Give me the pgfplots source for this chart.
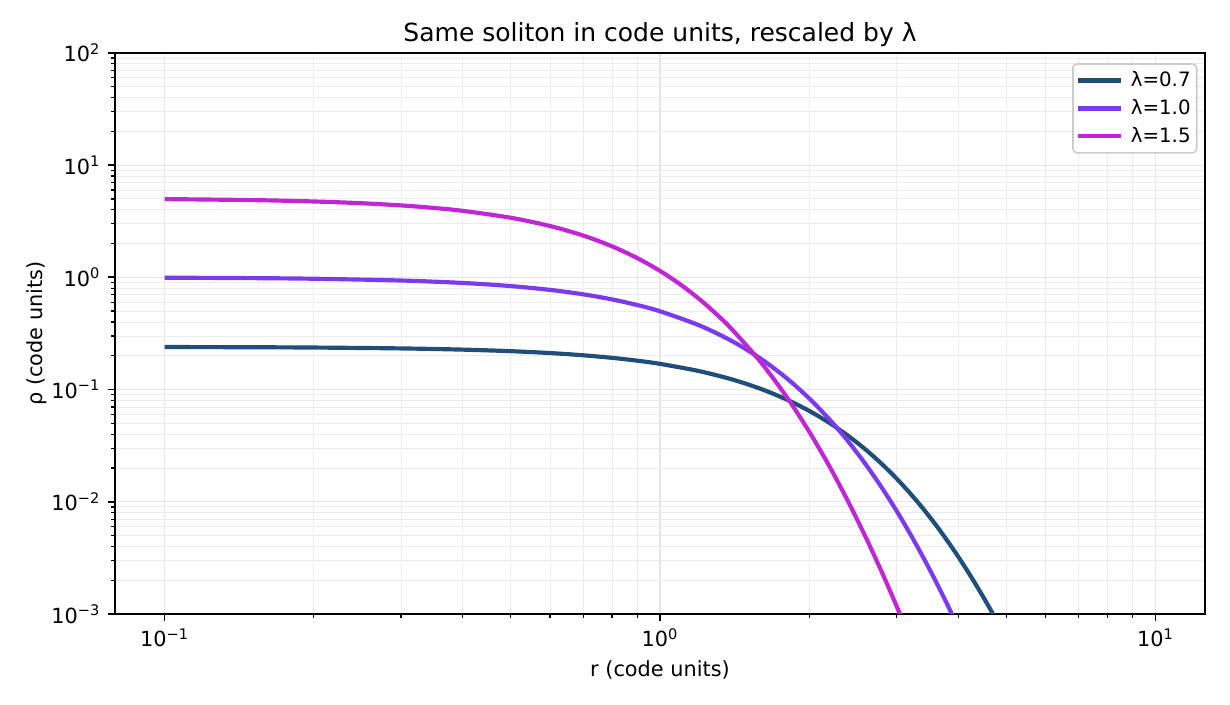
\documentclass[border=0pt]{standalone}
\usepackage{pgfplots}
\pgfplotsset{compat=1.18}
\usepackage{fontspec}
\setmainfont{DejaVu Sans}
\definecolor{cA}{HTML}{1F4E79}
\definecolor{cB}{HTML}{7C3AED}
\definecolor{cC}{HTML}{C026D3}
\begin{document}
\begin{tikzpicture}
\begin{axis}[
  scale only axis, width=523.2pt, height=269.3pt,
  xmode=log, ymode=log,
  xmin=0.079433, xmax=12.589, ymin=1e-3, ymax=1e2,
  xtick={0.1,1,10},
  xticklabels={10\textsuperscript{−1},10\textsuperscript{0},10\textsuperscript{1}},
  ytick={1e-3,1e-2,1e-1,1,10,100},
  yticklabels={10\textsuperscript{−3},10\textsuperscript{−2},10\textsuperscript{−1},10\textsuperscript{0},10\textsuperscript{1},10\textsuperscript{2}},
  grid=both,
  major grid style={line width=0.5pt, draw=black!10},
  minor grid style={line width=0.4pt, draw=black!8},
  tick align=outside, tick pos=left,
  major tick length=3.5pt, minor tick length=2pt,
  every major tick/.style={black, line width=0.8pt},
  every minor tick/.style={black, line width=0.6pt},
  axis line style={line width=0.8pt, black},
  tick label style={font=\fontsize{10}{12}\selectfont},
  every axis title shift=0pt,
  title={Same soliton in code units, rescaled by λ},
  title style={font=\fontsize{12}{14}\selectfont, at={(axis description cs:0.5,1.0197)}, anchor=base},
  xlabel={r (code units)},
  ylabel={ρ (code units)},
  xlabel style={font=\fontsize{10}{12}\selectfont, at={(axis description cs:0.5,-0.1121)}, anchor=base},
  ylabel style={font=\fontsize{10}{12}\selectfont, at={(axis description cs:-0.0669,0.5)}, anchor=base, rotate=0},
  legend cell align=left,
  legend image code/.code={\draw[#1] (0pt,0pt) -- (20.6pt,0pt);},
  legend style={at={(axis description cs:1,1)}, anchor=north east, xshift=-3.6pt, yshift=-4.9pt,
    font=\fontsize{9.5}{11}\selectfont, draw=black!20, line width=0.8pt, rounded corners=2pt,
    inner xsep=1.4pt, inner ysep=1.25pt, row sep=0pt, column sep=2.3pt,
    nodes={inner xsep=1.5pt, inner ysep=0pt, minimum height=13.4pt}},
]
\addplot[cA, line width=2pt, smooth] coordinates {
(0.1,0.23925)(0.15,0.23818)(0.2,0.23670)(0.3,0.23253)(0.4,0.22682)(0.5,0.21972)(0.6,0.21138)(0.7,0.20197)(0.8,0.19170)(0.9,0.18076)(1.0,0.16936)(1.2,0.14595)(1.4,0.12282)(1.6,0.10112)(1.8,0.08157)(2.0,0.06459)(2.2,0.05029)(2.4,0.03856)(2.6,0.02918)(2.8,0.02182)(3.0,0.016151)(3.2,0.011849)(3.4,0.008632)(3.6,0.006247)(3.8,0.004501)(4.0,0.003232)(4.2,0.002313)(4.4,0.001653)(4.6,0.001180)(4.8,0.000842)(5.0,0.000600)(5.5,0.000259)
};
\addlegendentry{λ=0.7}
\addplot[cB, line width=2pt, smooth] coordinates {
(0.1,0.99275)(0.15,0.98377)(0.2,0.97135)(0.3,0.93683)(0.4,0.89080)(0.5,0.83530)(0.6,0.77269)(0.7,0.70539)(0.8,0.63584)(0.9,0.56612)(1.0,0.49818)(1.2,0.37337)(1.4,0.26901)(1.6,0.18728)(1.8,0.12656)(2.0,0.08347)(2.2,0.05395)(2.4,0.03434)(2.6,0.02159)(2.8,0.013459)(3.0,0.008343)(3.2,0.005155)(3.4,0.003182)(3.6,0.001966)(3.8,0.001217)(4.0,0.000755)(4.2,0.000472)(4.5,0.000234)
};
\addlegendentry{λ=1.0}
\addplot[cC, line width=2pt, smooth] coordinates {
(0.1,4.9803)(0.15,4.8797)(0.2,4.7427)(0.25,4.5729)(0.3,4.3745)(0.35,4.1523)(0.4,3.9117)(0.5,3.3956)(0.6,2.8660)(0.7,2.3560)(0.8,1.8902)(0.9,1.4832)(1.0,1.1408)(1.1,0.8617)(1.2,0.6407)(1.3,0.4698)(1.4,0.3406)(1.6,0.17385)(1.8,0.08638)(2.0,0.04224)(2.2,0.02051)(2.4,0.009953)(2.6,0.004852)(2.8,0.002390)(3.0,0.001185)(3.2,0.000598)(3.4,0.000307)
};
\addlegendentry{λ=1.5}
\end{axis}
\pgfresetboundingbox
\path ([shift={(-55.2pt,-43.7pt)}]current axis.south west) rectangle ([shift={(12pt,25.4pt)}]current axis.north east);
\end{tikzpicture}
\end{document}
